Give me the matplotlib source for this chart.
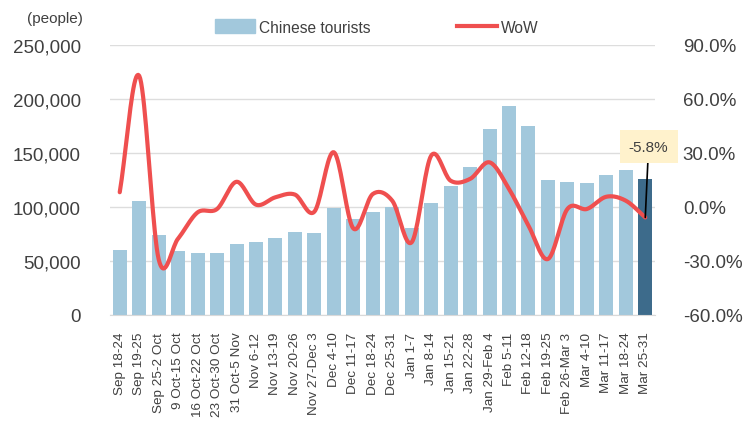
import matplotlib
matplotlib.use("Agg")
import matplotlib.pyplot as plt
import numpy as np
from matplotlib.ticker import FuncFormatter
from matplotlib.patches import Patch
from matplotlib.lines import Line2D

plt.rcParams['font.family'] = ['Liberation Sans', 'DejaVu Sans']

weeks = ['Sep 18-24', 'Sep 19-25', 'Sep 25-2 Oct', '9 Oct-15 Oct', '16 Oct-22 Oct',
         '23 Oct-30 Oct', '31 Oct-5 Nov', 'Nov 6-12', 'Nov 13-19', 'Nov 20-26',
         'Nov 27-Dec 3', 'Dec 4-10', 'Dec 11-17', 'Dec 18-24', 'Dec 25-31',
         'Jan 1-7', 'Jan 8-14', 'Jan 15-21', 'Jan 22-28', 'Jan 29-Feb 4',
         'Feb 5-11', 'Feb 12-18', 'Feb 19-25', 'Feb 26-Mar 3', 'Mar 4-10',
         'Mar 11-17', 'Mar 18-24', 'Mar 25-31']
tourists = [60500, 105300, 73800, 59500, 57700, 57400, 66000, 67300, 71300, 76900,
            75600, 99400, 88900, 95100, 100000, 80600, 103500, 119100, 137000, 172200,
            193500, 175000, 125000, 122800, 122500, 129900, 134300, 126200]
wow = [8.2, 72.9, -29.0, -17.5, -3.0, -1.1, 14.0, 1.3, 5.4, 6.9,
       -2.6, 30.4, -11.9, 7.2, 3.5, -19.6, 28.5, 14.6, 15.6, 24.8,
       10.0, -10.4, -28.9, -1.1, -1.1, 5.7, 3.5, -5.8]

text_col = '#404040'
bar_col = '#a2c8dc'
last_col = '#3d6b8b'
line_col = '#ef4f4f'


def catmull_rom(x, y, n=20):
    x = np.asarray(x, float)
    y = np.asarray(y, float)
    px = np.concatenate([[2 * x[0] - x[1]], x, [2 * x[-1] - x[-2]]])
    py = np.concatenate([[2 * y[0] - y[1]], y, [2 * y[-1] - y[-2]]])
    xs, ys = [], []
    t = np.linspace(0, 1, n, endpoint=False)
    for i in range(1, len(px) - 2):
        for arr, out in ((px, xs), (py, ys)):
            p0, p1, p2, p3 = arr[i - 1], arr[i], arr[i + 1], arr[i + 2]
            out.extend(0.5 * (2 * p1 + (-p0 + p2) * t
                              + (2 * p0 - 5 * p1 + 4 * p2 - p3) * t ** 2
                              + (-p0 + 3 * p1 - 3 * p2 + p3) * t ** 3))
    xs.append(x[-1])
    ys.append(y[-1])
    return np.array(xs), np.array(ys)


fig = plt.figure(figsize=(7.52, 4.39), dpi=100)
ax = fig.add_axes([110 / 752, 1 - 316 / 439, 545 / 752, 270 / 439])
ax2 = ax.twinx()

x = np.arange(len(weeks))
colors = [bar_col] * (len(weeks) - 1) + [last_col]
ax.bar(x, tourists, width=0.72, color=colors, zorder=2)
ax.set_xlim(-0.5, len(weeks) - 0.5)
ax.set_ylim(0, 250000)
ax.set_yticks(np.arange(0, 250001, 50000))
ax.yaxis.set_major_formatter(FuncFormatter(lambda v, p: f'{int(v):,}'))
ax.grid(axis='y', color='#dddddd', linewidth=1, zorder=0)
ax.set_axisbelow(True)
ax.set_xticks(x)
ax.set_xticklabels(weeks, rotation=90, fontsize=9.7, color=text_col)
ax.tick_params(axis='x', length=0, pad=12)
ax.tick_params(axis='y', length=0, pad=21, labelsize=13.5, labelcolor=text_col)

xs, ys = catmull_rom(x, wow)
ax2.plot(xs, ys, color=line_col, linewidth=3, solid_capstyle='round', zorder=3)
ax2.set_ylim(-60, 90)
ax2.set_yticks(np.arange(-60, 91, 30))
ax2.yaxis.set_major_formatter(FuncFormatter(lambda v, p: f'{v:.1f}%'))
ax2.tick_params(axis='y', length=0, pad=20, labelsize=13.5, labelcolor=text_col)

for a in (ax, ax2):
    for s in a.spines.values():
        s.set_visible(False)
ax.spines['bottom'].set_visible(True)
ax.spines['bottom'].set_color('#d9d9d9')

ax2.annotate(f'{wow[-1]}%', xy=(x[-1], wow[-1]), xytext=(x[-1] + 0.17, 33.6),
             ha='center', va='center', fontsize=11, color=text_col,
             bbox=dict(boxstyle='square,pad=0.6', fc='#fff2cc', ec='none'),
             arrowprops=dict(arrowstyle='-', color='black', lw=1.2,
                             shrinkA=0, shrinkB=0))

fig.text(27 / 752, 1 - 19 / 439, '(people)', fontsize=11, color=text_col,
         va='center', ha='left')

handles = [Patch(color=bar_col), Line2D([0], [0], color=line_col, lw=3)]
fig.legend(handles, ['Chinese tourists', 'WoW'], loc='center',
           bbox_to_anchor=(377 / 752, 1 - 28 / 439), ncol=2, frameon=False,
           fontsize=11.2, labelcolor=text_col, columnspacing=5.6,
           handlelength=2.55, handletextpad=0.25, handleheight=1.0)

fig.savefig('out.png', dpi=100)
